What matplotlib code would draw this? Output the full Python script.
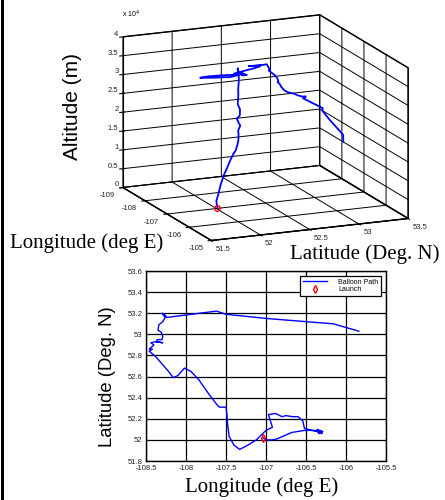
import matplotlib
matplotlib.use("Agg")
import matplotlib.pyplot as plt
from matplotlib.patches import Rectangle
from matplotlib.transforms import Bbox, TransformedBbox
from mpl_toolkits.mplot3d import proj3d

# Balloon flight track: longitude (deg E), latitude (deg N), altitude (m)
lon = [-107.04, -107.00, -106.92, -106.86, -106.80, -106.74, -106.68, -106.60,
       -106.52, -106.45, -106.40, -106.35, -106.32, -106.36, -106.30, -106.34,
       -106.29, -106.33, -106.30, -106.36, -106.32, -106.38, -106.35, -106.43,
       -106.52, -106.54, -106.60, -106.67, -106.75, -106.80, -106.88, -106.97,
       -106.92, -107.00, -107.12, -107.25, -107.33, -107.40, -107.46, -107.48,
       -107.49, -107.50, -107.58, -107.61, -107.72, -107.84, -107.94, -108.02,
       -108.10, -108.16, -108.22, -108.30, -108.38, -108.46, -108.42, -108.46,
       -108.40, -108.44, -108.38, -108.29, -108.37, -108.36, -108.30, -108.29,
       -108.31, -108.35, -108.34, -108.29, -108.26, -108.30, -108.27, -108.24,
       -108.03, -107.83, -107.62, -107.50, -106.99, -106.50, -106.16, -105.84]
lat = [52.02, 52.00, 52.00, 52.01, 52.03, 52.05, 52.07, 52.08,
       52.09, 52.09, 52.09, 52.08, 52.07, 52.10, 52.07, 52.06,
       52.08, 52.09, 52.06, 52.08, 52.07, 52.09, 52.08, 52.09,
       52.11, 52.18, 52.22, 52.22, 52.23, 52.22, 52.25, 52.24,
       52.12, 52.09, 52.00, 51.94, 51.91, 51.95, 52.03, 52.15,
       52.25, 52.31, 52.31, 52.33, 52.44, 52.57, 52.65, 52.68,
       52.61, 52.59, 52.65, 52.72, 52.79, 52.84, 52.86, 52.86,
       52.90, 52.92, 52.93, 52.92, 52.93, 52.95, 52.95, 52.98,
       53.02, 53.04, 53.09, 53.12, 53.16, 53.20, 53.19, 53.16,
       53.18, 53.20, 53.22, 53.19, 53.15, 53.12, 53.10, 53.03]
alt = [0, 2000, 3800, 6500, 9400, 11500, 13700, 15500,
       16900, 18500, 20000, 21500, 22900, 24000, 25000, 26000,
       27000, 28500, 30000, 32000, 34000, 36000, 38000, 39000,
       37800, 36800, 36200, 35900, 35600, 35400, 35200, 35000,
       34800, 34600, 34300, 34000, 33800, 33600, 33400, 33200,
       33000, 32900, 32850, 32800, 32700, 32600, 32500, 32400,
       32200, 32000, 31700, 31300, 31000, 30700, 29500, 29000,
       28000, 27600, 27000, 26500, 26000, 25500, 25000, 24000,
       23300, 23000, 22600, 22200, 21900, 21700, 21600, 21500,
       21300, 21100, 20900, 20700, 20200, 19700, 19300, 18800]
launch_lon = -107.04
launch_lat = 52.02

lon_ticks_3d = [-109, -108, -107, -106, -105]
lon_labels_3d = ["-109", "-108", "-107", "-106", "-105"]
lat_ticks_3d = [51.5, 52, 52.5, 53, 53.5]
lat_labels_3d = ["51.5", "52", "52.5", "53", "53.5"]
alt_ticks = [0, 5000, 10000, 15000, 20000, 25000, 30000, 35000, 40000]
alt_labels = ["0", "0.5", "1", "1.5", "2", "2.5", "3", "3.5", "4"]

lon_ticks_2d = [-108.5, -108, -107.5, -107, -106.5, -106, -105.5]
lon_labels_2d = ["-108.5", "-108", "-107.5", "-107", "-106.5", "-106", "-105.5"]
lat_ticks_2d = [51.8, 52.0, 52.2, 52.4, 52.6, 52.8, 53.0, 53.2, 53.4, 53.6]
lat_labels_2d = ["51.8", "52", "52.2", "52.4", "52.6", "52.8", "53", "53.2", "53.4", "53.6"]

plt.rcParams["axes.unicode_minus"] = False
plt.rcParams["font.family"] = ["Liberation Sans", "DejaVu Sans"]
plt.rcParams["grid.color"] = "black"
plt.rcParams["grid.linestyle"] = "-"
plt.rcParams["grid.linewidth"] = 0.7

W, H = 445, 500
fig = plt.figure(figsize=(W / 100, H / 100), dpi=100)

# ---------- 3-D view of the flight ----------
side = 231
cx, cy = 262.4, 130.8
ax3 = fig.add_axes([(cx - side / 2) / W, 1 - (cy + side / 2) / H, side / W, side / H],
                   projection="3d", zorder=1)
ax3.set_proj_type("ortho")
ax3.view_init(elev=15, azim=-23.35)
ax3.set_box_aspect((222, 213.5, 155.3), zoom=1.456)
ax3.plot(lon, lat, alt, color="#0000ff", lw=1.3)
ax3.plot([launch_lon], [launch_lat], [0], "o", mec="red", mfc="none", ms=4, mew=1)
ax3.set_xlim(-109, -105)
ax3.set_ylim(51.5, 53.5)
ax3.set_zlim(0, 40000)
ax3.set_xticks(lon_ticks_3d)
ax3.set_yticks(lat_ticks_3d)
ax3.set_zticks(alt_ticks)
ax3.tick_params(axis="both", labelbottom=False, labelleft=False,
                labeltop=False, labelright=False)
ax3.tick_params(axis="z", labelbottom=False, labelleft=False,
                labeltop=False, labelright=False)
ax3.zaxis.set_ticks_position("lower")
for axis in (ax3.xaxis, ax3.yaxis, ax3.zaxis):
    axis.set_pane_color((1, 1, 1, 1))
    axis.pane.set_edgecolor("black")
    axis.line.set_color("black")

# tick labels beside the box edges, projected with the view's own matrix
M = ax3.get_proj()


def edge_label(x, y, z, s, **kw):
    px, py, _ = proj3d.proj_transform(x, y, z, M)
    ax3.text2D(px, py, s, transform=ax3.transData, fontsize=5.5,
               color="#222222", **kw)


for v, s in zip(lon_ticks_3d, lon_labels_3d):
    edge_label(v, 51.5 - 0.08, -1000, s, ha="right", va="top")
for v, s in zip(lat_ticks_3d, lat_labels_3d):
    edge_label(-105 + 0.2, v, -700, s, ha="left", va="top")
for v, s in zip(alt_ticks, alt_labels):
    edge_label(-109 - 0.2, 51.5, v, s, ha="right", va="center")
fig.text(122 / W, 1 - 14 / H, r"x 10$^4$", fontsize=5, ha="left", va="center")

fig.text(73 / W, 1 - 106 / H, "Altitude (m)", rotation=90, fontsize=15,
         ha="center", va="center")
fig.text(10 / W, 1 - 243 / H, "Longitude (deg E)", family="Liberation Serif",
         fontsize=15, ha="left", va="center", zorder=4)
fig.text(440 / W, 1 - 254 / H, "Latitude (Deg. N)", family="Liberation Serif",
         fontsize=15, ha="right", va="center", zorder=4)

# ---------- ground track ----------
ax2 = fig.add_axes([146 / W, 39 / H, 240 / W, 190 / H], zorder=2)
ax2.plot(lon, lat, color="#0000ff", lw=1.0, label="Balloon Path")
ax2.plot([launch_lon], [launch_lat], "d", mec="red", mfc="none", ms=4, mew=1,
         label="Launch")
ax2.set_xlim(-108.5, -105.5)
ax2.set_ylim(51.8, 53.6)
ax2.set_xticks(lon_ticks_2d, lon_labels_2d)
ax2.set_yticks(lat_ticks_2d, lat_labels_2d)
ax2.grid(True, color="black", lw=0.9, ls="-")
ax2.tick_params(direction="in", labelsize=5.5, length=2, colors="#222222")
ax2.tick_params(axis="x", pad=3)
ax2.tick_params(axis="y", pad=2.5)
for s in ax2.spines.values():
    s.set_linewidth(1.0)
leg = ax2.legend(loc="upper right", fontsize=5, frameon=True, fancybox=False,
                 edgecolor="black", framealpha=1, borderpad=0.4,
                 handlelength=3.5, handletextpad=1.6, borderaxespad=0.7,
                 labelspacing=0.1)
leg.get_frame().set_linewidth(0.9)

# the top y label sits partly under the 3-D panel's lower edge
top_clip = TransformedBbox(Bbox([[0, 0], [1, 1 - 269 / H]]), fig.transFigure)
for lbl in ax2.get_yticklabels():
    lbl.set_clip_box(top_clip)
    lbl.set_clip_on(True)

fig.text(108 / W, 1 - 377 / H, "Latitude (Deg. N)", rotation=90, fontsize=13.3,
         ha="center", va="center")
fig.text(262 / W, 1 - 487 / H, "Longitude (deg E)", family="Liberation Serif",
         fontsize=15, ha="center", va="center")

# frame bar along the left edge
fig.add_artist(Rectangle((1 / W, 0), 2.5 / W, 1, transform=fig.transFigure,
                         color="black", lw=0))

fig.savefig("out.png", dpi=100)
